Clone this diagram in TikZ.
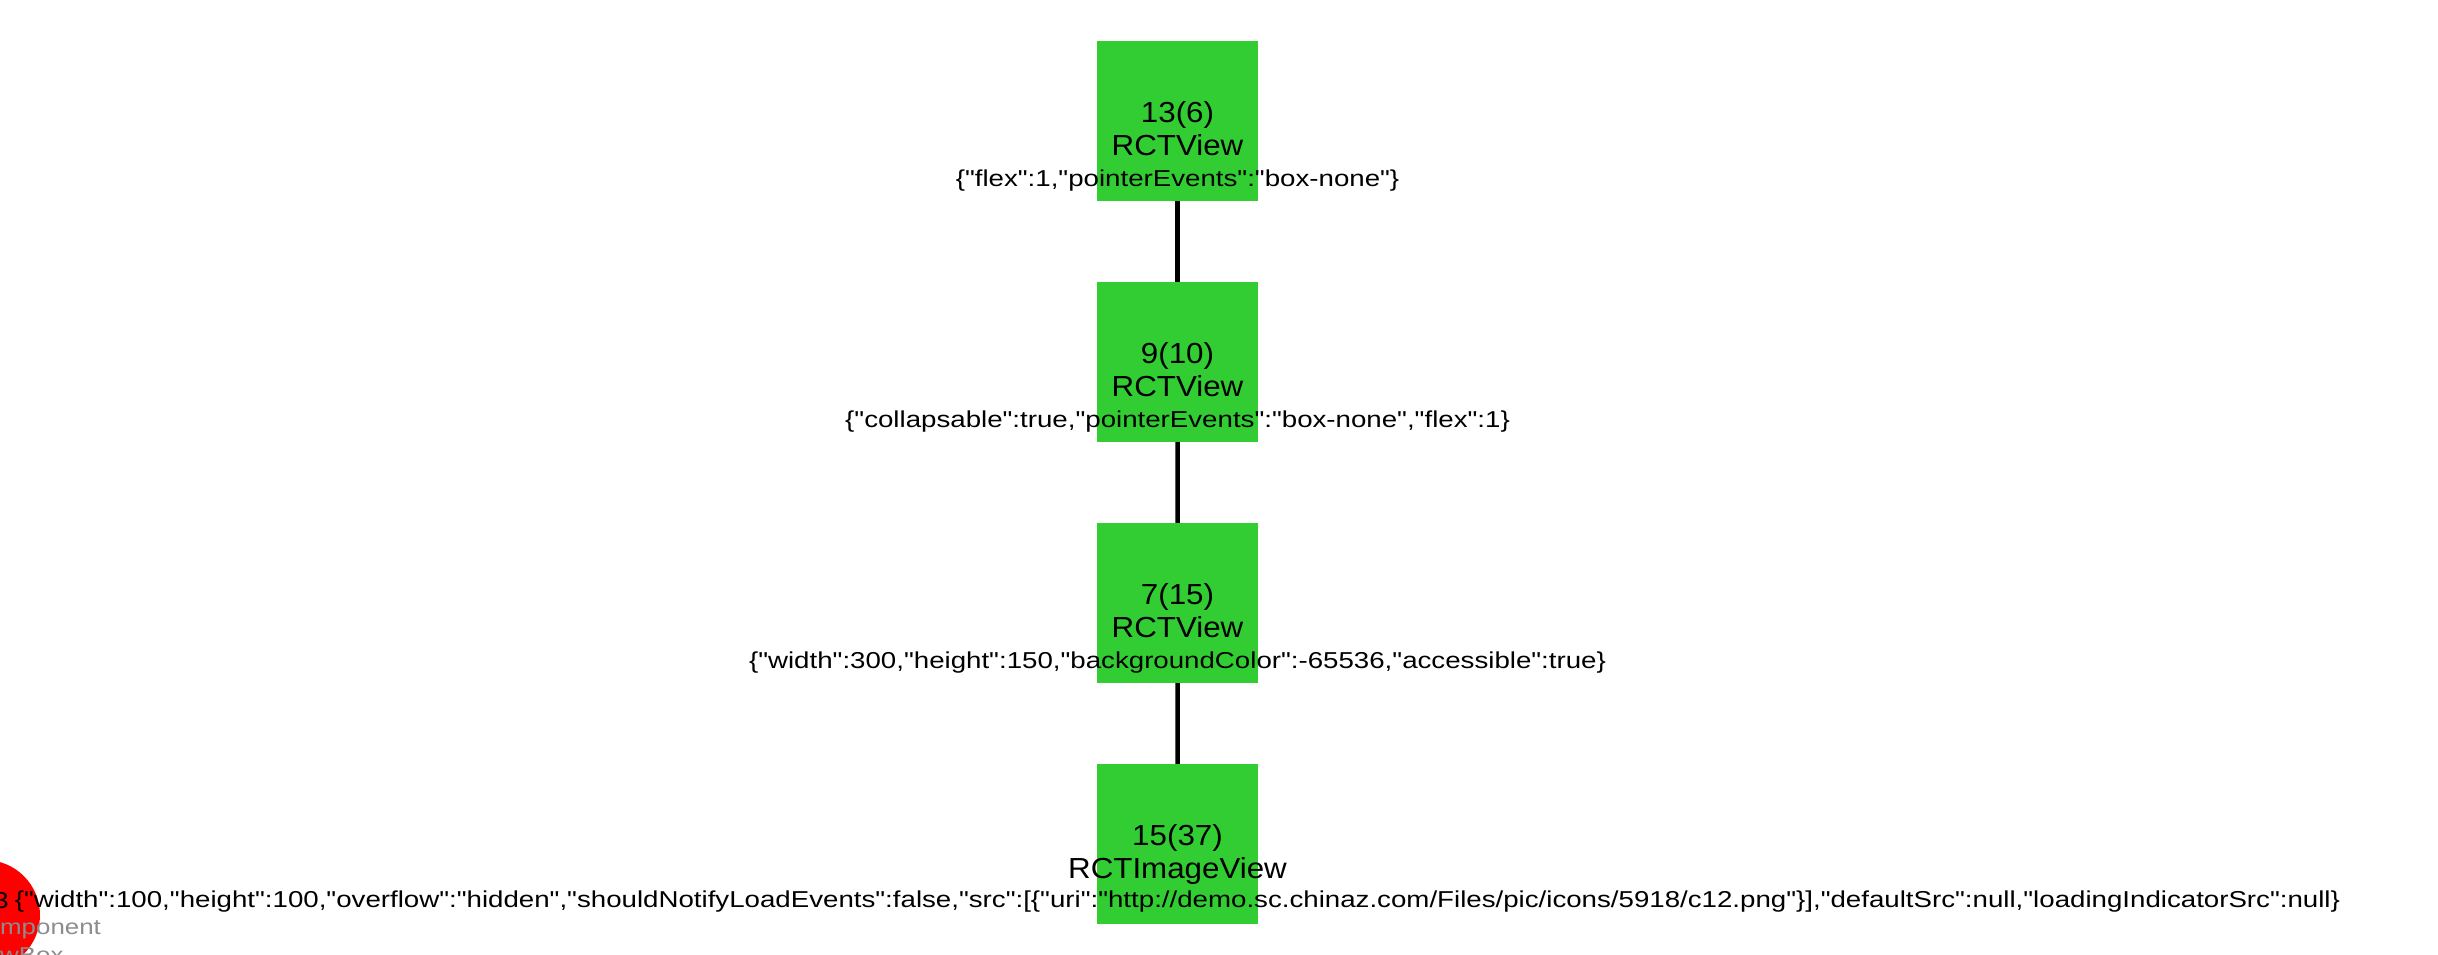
\documentclass[tikz,border=0pt]{standalone}
\usepackage{fontspec}
\usepackage{xcolor}
\newfontfamily\viewfont[FakeStretch=1.08]{Liberation Sans}
\newfontfamily\propfont[FakeStretch=1.203]{Liberation Sans}
\definecolor{viewgreen}{HTML}{32CD32}

\begin{document}
\begin{tikzpicture}[x=1pt,y=1pt,level distance=241pt,
	  every node/.append style={inner sep=0pt},
	  edge from parent/.style={draw,line width=4.5pt}]
	  \tikzstyle{view} = [rectangle,fill=viewgreen,minimum width=161pt,minimum height=160pt]
	  \tikzstyle{vtext} = [font=\viewfont\fontsize{29}{33}\selectfont,align=center,anchor=north]
	  \tikzstyle{props} = [font=\propfont\fontsize{23}{27}\selectfont,anchor=base]
	  \tikzstyle{cls} = [font=\propfont\fontsize{21.5}{26}\selectfont,anchor=base west,text=black!45]
	  \useasboundingbox (0,0) rectangle (2438,-954);
	  \node (n13) [view] at (1177.5,-121) {}
	  {
	  child {node (n9) [view] {}
	    {
	    child {node (n7) [view] {}
	      {
	      child {node (n15) [view] {}}
	      }}
	    }}
	  };
	  \node (n3) [circle,fill=red,minimum size=110pt] at (-15,-915) {};
	  \node (t13) [vtext] at ([yshift=20pt]n13.center) {13(6)\\RCTView};
	  \node (t9) [vtext] at ([yshift=20pt]n9.center) {9(10)\\RCTView};
	  \node (t7) [vtext] at ([yshift=20pt]n7.center) {7(15)\\RCTView};
	  \node (t15) [vtext] at ([yshift=20pt]n15.center) {15(37)\\RCTImageView};
	  \node (p13) [props] at ([yshift=-65pt]n13.center) {\{"flex":1,"pointerEvents":"box-none"\}};
	  \node (p9) [props] at ([yshift=-65pt]n9.center) {\{"collapsable":true,"pointerEvents":"box-none","flex":1\}};
	  \node (p7) [props] at ([yshift=-65pt]n7.center) {\{"width":300,"height":150,"backgroundColor":-65536,"accessible":true\}};
	  \node (p15) [props] at ([yshift=-63pt]n15.center) {\{"width":100,"height":100,"overflow":"hidden","shouldNotifyLoadEvents":false,"src":[\{"uri":"http://demo.sc.chinaz.com/Files/pic/icons/5918/c12.png"\}],"defaultSrc":null,"loadingIndicatorSrc":null\}};
	  \node (n3id) [props,anchor=base east] at (9,-908) {3};
	  \node (n3cls) [cls] at (0,-934) {mponent};
	  \node (n3box) [cls] at (0,-962) {wBox};
\end{tikzpicture}
\end{document}
